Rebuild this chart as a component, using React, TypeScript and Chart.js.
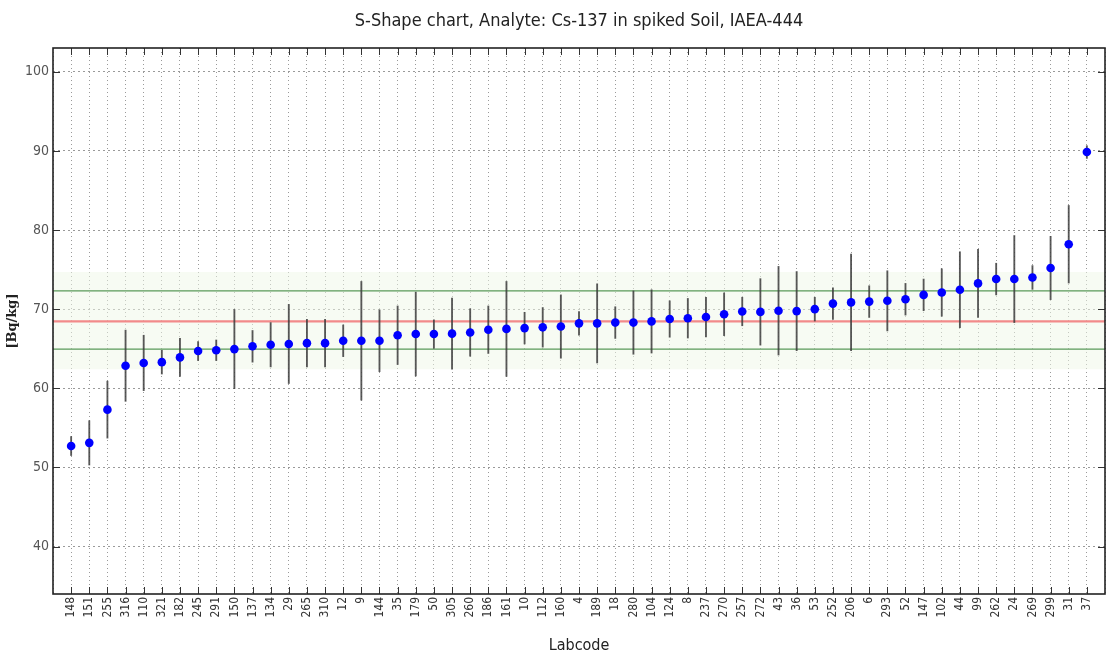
import React, { useEffect, useRef } from "react";
import { Chart, registerables } from "chart.js";

Chart.register(...registerables);

const titleText = "S-Shape chart, Analyte: Cs-137 in spiked Soil, IAEA-444";
const yAxisTitle = "[Bq/kg]";
const xAxisTitle = "Labcode";

const labcodes = [
  "148", "151", "255", "316", "110", "321", "182", "245", "291", "150",
  "137", "134", "29", "265", "310", "12", "9", "144", "35", "179",
  "50", "305", "260", "186", "161", "10", "112", "160", "4", "189",
  "18", "280", "104", "124", "8", "237", "270", "257", "272", "43",
  "36", "53", "252", "206", "6", "293", "52", "147", "102", "44",
  "99", "262", "24", "269", "299", "31", "37",
];

const values = [
  52.7, 53.1, 57.3, 62.85, 63.2, 63.3, 63.9, 64.7, 64.8, 64.95,
  65.3, 65.5, 65.6, 65.7, 65.7, 66.0, 66.0, 66.0, 66.7, 66.85,
  66.85, 66.9, 67.05, 67.4, 67.5, 67.6, 67.7, 67.8, 68.2, 68.2,
  68.3, 68.3, 68.45, 68.75, 68.85, 69.0, 69.35, 69.7, 69.65, 69.8,
  69.75, 70.0, 70.7, 70.85, 70.95, 71.05, 71.25, 71.8, 72.1, 72.45,
  73.25, 73.8, 73.8, 74.0, 75.2, 78.2, 89.85,
];

const uncertainties = [
  1.2, 2.8, 3.6, 4.5, 3.5, 1.5, 2.4, 1.2, 1.3, 5.0,
  2.0, 2.8, 5.0, 3.0, 3.0, 2.0, 7.5, 3.9, 3.7, 5.3,
  1.8, 4.5, 3.0, 3.0, 6.0, 2.0, 2.5, 4.0, 1.5, 5.0,
  2.0, 4.0, 4.0, 2.3, 2.5, 2.5, 2.7, 1.8, 4.2, 5.6,
  5.0, 1.5, 2.0, 6.1, 2.0, 3.8, 2.0, 2.0, 3.0, 4.8,
  4.3, 2.0, 5.5, 1.5, 4.0, 4.9, 0.8,
];

const yTicks = [40, 50, 60, 70, 80, 90, 100];
const yMin = 34;
const yMax = 103;

const referenceValue = 68.45;
const lowerLimit = 64.95;
const upperLimit = 72.3;
const bandLow = 62.4;
const bandHigh = 74.7;

const condensed = '"DejaVu Sans Condensed", "Liberation Sans Narrow", "DejaVu Sans", sans-serif';

export default function App() {
  const canvasRef = useRef<HTMLCanvasElement | null>(null);

  useEffect(() => {
    const canvas = canvasRef.current;
    if (!canvas) return;
    const xFirst = -1;
    const xLast = labcodes.length;

    const hline = (v: number) => [
      { x: xFirst, y: v },
      { x: xLast, y: v },
    ];

    const framePlugin = {
      id: "frameAndTitle",
      afterDatasetsDraw(chart: any) {
        const { ctx, chartArea } = chart;
        const xs = chart.scales.x;
        const ys = chart.scales.y;
        ctx.save();
        ctx.strokeStyle = "#333";
        ctx.lineWidth = 1;
        ctx.beginPath();
        labcodes.forEach((_, i) => {
          const px = Math.round(xs.getPixelForValue(i)) + 0.5;
          ctx.moveTo(px, chartArea.bottom);
          ctx.lineTo(px, chartArea.bottom - 7);
          ctx.moveTo(px, chartArea.top);
          ctx.lineTo(px, chartArea.top + 7);
        });
        yTicks.forEach((t) => {
          const py = Math.round(ys.getPixelForValue(t)) + 0.5;
          ctx.moveTo(chartArea.left, py);
          ctx.lineTo(chartArea.left + 7, py);
          ctx.moveTo(chartArea.right, py);
          ctx.lineTo(chartArea.right - 7, py);
        });
        ctx.stroke();
        ctx.strokeStyle = "#222";
        ctx.lineWidth = 1.6;
        ctx.strokeRect(
          chartArea.left,
          chartArea.top,
          chartArea.right - chartArea.left,
          chartArea.bottom - chartArea.top
        );
        ctx.fillStyle = "#222";
        ctx.font = `18px ${condensed}`;
        ctx.textAlign = "center";
        ctx.textBaseline = "middle";
        ctx.fillText(titleText, (chartArea.left + chartArea.right) / 2, 21);
        ctx.restore();
      },
    };

    const chart = new Chart(canvas, {
      type: "scatter",
      data: {
        datasets: [
          {
            type: "scatter",
            label: "Results",
            data: values.map((v, i) => ({ x: i, y: v })),
            pointRadius: 4.3,
            pointBackgroundColor: "#0000ff",
            pointBorderColor: "#0000ff",
            pointBorderWidth: 0,
            order: 0,
          } as any,
          {
            type: "bar",
            label: "Uncertainty",
            data: values.map((v, i) => ({ x: i, y: [v - uncertainties[i], v + uncertainties[i]] })),
            backgroundColor: "rgba(60,60,60,0.85)",
            borderWidth: 0,
            barThickness: 1.2,
            order: 1,
          } as any,
          {
            type: "line",
            label: "Reference",
            data: hline(referenceValue),
            borderColor: "#f28a8a",
            borderWidth: 2.2,
            pointRadius: 0,
            order: 2,
          } as any,
          {
            type: "line",
            label: "Upper",
            data: hline(upperLimit),
            borderColor: "#5a9a5a",
            borderWidth: 1.2,
            pointRadius: 0,
            order: 2,
          } as any,
          {
            type: "line",
            label: "Lower",
            data: hline(lowerLimit),
            borderColor: "#5a9a5a",
            borderWidth: 1.2,
            pointRadius: 0,
            order: 2,
          } as any,
          {
            type: "line",
            label: "Band",
            data: hline(bandHigh),
            borderWidth: 0,
            borderColor: "rgba(0,0,0,0)",
            backgroundColor: "rgba(240,247,232,0.5)",
            fill: { target: { value: bandLow } },
            pointRadius: 0,
            order: 3,
          } as any,
        ],
      },
      options: {
        animation: false,
        responsive: true,
        maintainAspectRatio: false,
        layout: { padding: { left: 0, right: 7, top: 48, bottom: 0 } },
        plugins: {
          legend: { display: false },
          tooltip: { enabled: false },
          title: { display: false },
        },
        scales: {
          x: {
            type: "linear",
            min: xFirst,
            max: xLast,
            offset: false,
            afterBuildTicks: (scale: any) => {
              const t = [];
              for (let i = xFirst; i <= xLast; i++) t.push({ value: i });
              scale.ticks = t;
            },
            afterFit: (scale: any) => {
              scale.height = 65;
              scale.paddingLeft = 0;
              scale.paddingRight = 0;
            },
            grid: {
              offset: false,
              color: "#9a9a9a",
              lineWidth: 1,
              drawTicks: false,
            },
            border: { display: false, dash: [1, 3] },
            ticks: {
              autoSkip: false,
              maxRotation: 90,
              minRotation: 90,
              padding: 3,
              color: "#333",
              font: { family: condensed, size: 12 },
              callback: (v: any) => {
                const i = Number(v);
                return i >= 0 && i < labcodes.length ? labcodes[i] : "";
              },
            },
            title: {
              display: true,
              text: xAxisTitle,
              color: "#222",
              font: { family: condensed, size: 16 },
              padding: { top: 0, bottom: 4 },
            },
          },
          y: {
            type: "linear",
            min: yMin,
            max: yMax,
            afterBuildTicks: (scale: any) => {
              scale.ticks = yTicks.map((v) => ({ value: v }));
            },
            afterFit: (scale: any) => {
              scale.width = 53;
              scale.paddingTop = 0;
              scale.paddingBottom = 0;
            },
            grid: {
              color: "#9a9a9a",
              lineWidth: 1,
              drawTicks: false,
            },
            border: { display: false, dash: [2, 3] },
            ticks: {
              padding: 4,
              color: "#555",
              font: { family: condensed, size: 14 },
              callback: (v: any) => String(v),
            },
            title: {
              display: true,
              text: yAxisTitle,
              color: "#222",
              font: { family: '"DejaVu Serif", serif', size: 13, weight: "bold" },
              padding: { top: 5, bottom: 0 },
            },
          },
        },
      },
      plugins: [framePlugin],
    } as any);

    return () => chart.destroy();
  }, []);

  return (
    <div style={{ position: "fixed", left: 0, top: 0, width: 1112, height: 659, background: "#fff" }}>
      <canvas ref={canvasRef} />
    </div>
  );
}
